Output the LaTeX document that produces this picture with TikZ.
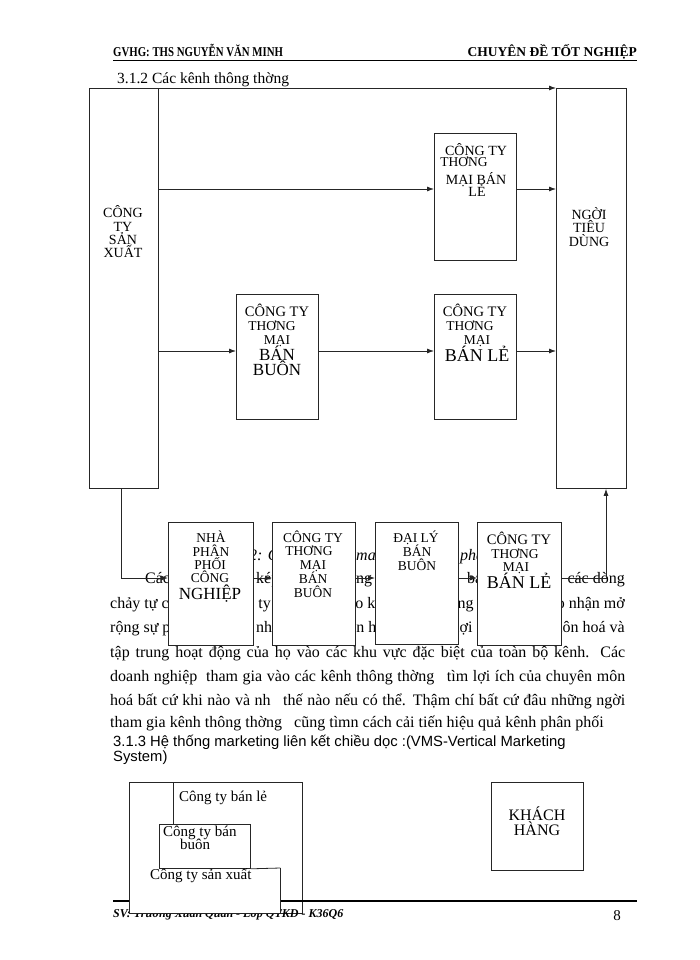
\documentclass[tikz,border=0pt]{standalone}
\usepackage{fontspec}
\usepackage{graphicx}
\setmainfont{Liberation Serif}
\newfontfamily\arialf{Liberation Sans}
\usetikzlibrary{arrows.meta}
\newcounter{tlc}
\newcommand\tx[4]{\stepcounter{tlc}\node[font=\fontsize{#3}{#3}\selectfont, anchor=base, inner sep=0pt] (tx\the\value{tlc}) at (#1,#2) {#4};}
\tikzset{
  box/.style={draw=black!85, line width=0.8pt, fill=white, inner sep=0pt, anchor=north west},
  conn/.style={draw=black!85, line width=0.8pt},
  arr/.style={conn, -{Latex[length=7pt,width=5pt]}},
  bodyw/.style={font=\fontsize{16}{18}\selectfont, inner sep=0pt, anchor=base west},
  bodye/.style={font=\fontsize{16}{18}\selectfont, inner sep=0pt, anchor=base east},
  capt/.style={font=\itshape\fontsize{16}{18}\selectfont, inner sep=0pt, anchor=base west},
  hdr/.style={font=\bfseries\fontsize{13.5}{15}\selectfont, inner sep=0pt},
  vms/.style={font=\fontsize{15}{17}\selectfont, inner sep=0pt, anchor=base west},
}
\begin{document}
\begin{tikzpicture}[x=1pt,y=-1pt]
\useasboundingbox (0,0) rectangle (700,960);
\fill[white] (0,0) rectangle (700,960);

% header
\node[hdr, anchor=base west] (hl) at (113,57) {\scalebox{0.8}[1]{GVHG: THS NGUYỄN VĂN MINH}};
\node[hdr, anchor=base east] (hr) at (637,57) {CHUYÊN ĐỀ TỐT NGHIỆP};
\draw[line width=1.3pt] (113,60.5) -- (637,60.5);
\node[font=\fontsize{15.5}{18}\selectfont, inner sep=0pt, anchor=base west] (title) at (117,84) {3.1.2 Các kênh thông thờng};

% paragraph behind the lower row
\node[capt] (c1) at (249,560) {2: Các};
\node[capt] (c2) at (356,560) {marketing};
\node[capt] (c3) at (460,560) {phân phối};

\node[bodyw] (p11) at (145,583) {Các kênh};
\node[bodyw] (p12) at (256,583) {kép};
\node[bodyw] (p13) at (356,583) {ng};
\node[bodyw] (p14) at (467,583) {ba};
\node[bodye] (p15) at (625,583) {các dòng};

\node[bodyw] (p21) at (110,608) {chảy tự các};
\node[bodye] (p22) at (271,608) {công ty};
\node[bodyw] (p23) at (340,608) {vào kênh};
\node[bodyw] (p24) at (437,608) {thông};
\node[bodye] (p25) at (625,608) {cho nhận mở};

\node[bodyw] (p31) at (110,632) {rộng sự phân};
\node[bodyw] (p32) at (256,632) {nhà};
\node[bodyw] (p33) at (318,632) {chuyên hoá};
\node[bodyw] (p34) at (455,632) {lợi};
\node[bodye] (p35) at (625,632) {chuyên môn hoá và};

\node[bodyw] (p4) at (110,657) {\makebox[515pt][s]{tập trung hoạt động của họ vào các khu vực đặc biệt của toàn bộ kênh. Các}};
\node[bodyw] (p5) at (110,681) {\makebox[515pt][s]{doanh nghiệp\hspace{4pt} tham gia vào các kênh thông thờng\hspace{8pt} tìm lợi ích của chuyên môn}};
\node[bodyw] (p6) at (110,705) {\makebox[515pt][s]{hoá bất cứ khi nào và nh\hspace{8pt} thế nào nếu có thể. Thậm chí bất cứ đâu những ngời}};
\node[bodyw] (p7) at (110,727) {tham gia kênh thông thờng\hspace{8pt} cũng tìmn cách cải tiến hiệu quả kênh phân phối};
\node[font=\arialf\fontsize{14.8}{16}\selectfont, inner sep=0pt, anchor=base west] (p8) at (113,746) {3.1.3 Hệ thống marketing liên kết chiều dọc :(VMS-Vertical Marketing};
\node[font=\arialf\fontsize{14.8}{16}\selectfont, inner sep=0pt, anchor=base west] (p9) at (113,761) {System)};

% main boxes
\node[box, minimum width=69pt, minimum height=400pt] (sx) at (89,88) {};
\node[box, minimum width=70pt, minimum height=400pt] (ntd) at (556,88) {};
\node[box, minimum width=82pt, minimum height=127pt] (tl) at (434,133) {};
\node[box, minimum width=82pt, minimum height=125pt] (mb1) at (236,294) {};
\node[box, minimum width=82pt, minimum height=125pt] (mb2) at (434,294) {};

% connectors
\draw[arr] (sx.north east) -- (ntd.north west);
\draw[arr] (sx.east |- 0,189) -- (tl.west |- 0,189);
\draw[arr] (tl.east |- 0,189) -- (ntd.west |- 0,189);
\draw[arr] (sx.east |- 0,351) -- (mb1.west |- 0,351);
\draw[arr] (mb1.east |- 0,351) -- (mb2.west |- 0,351);
\draw[arr] (mb2.east |- 0,351) -- (ntd.west |- 0,351);

\coordinate (cl) at (121,578);
\coordinate (cr) at (606,578);
\node[box, minimum width=85pt, minimum height=123pt] (npp) at (168,522) {};
\node[box, minimum width=83pt, minimum height=123pt] (bb) at (272,522) {};
\node[box, minimum width=83pt, minimum height=122pt] (dl) at (375,522) {};
\node[box, minimum width=84pt, minimum height=123pt] (bl) at (477,522) {};
\draw[arr] (cl |- sx.south) -- (cl) -- (npp.west |- cl);
\draw[arr] (npp.east |- cl) -- (bb.west |- cl);
\draw[arr] (bb.east |- cl) -- (dl.west |- cl);
\draw[arr] (dl.east |- cl) -- (bl.west |- cl);
\draw[arr] (bl.east |- cl) -- (cr) -- (cr |- ntd.south);

% box texts
\tx{123}{217.5}{14}{CÔNG}
\tx{123}{231.5}{14}{TY}
\tx{123}{244.5}{14}{SẢN}
\tx{123}{257.5}{14}{XUẤT}

\tx{589}{219.5}{14}{NGỜI}
\tx{589}{232}{14}{TIÊU}
\tx{589}{246.5}{14}{DÙNG}

\tx{476}{155.5}{14}{CÔNG TY}
\tx{464}{166.5}{13.5}{THƠNG}
\tx{476}{184}{14}{MẠI BÁN}
\tx{477}{196.5}{14}{LẺ}

\tx{277}{316.5}{14.5}{CÔNG TY}
\tx{272}{330.5}{13.5}{THƠNG}
\tx{277}{344.5}{13.5}{MẠI}
\tx{277}{360.5}{17}{BÁN}
\tx{277}{375}{17}{BUÔN}

\tx{475}{316.5}{14.5}{CÔNG TY}
\tx{470}{330.5}{13.5}{THƠNG}
\tx{477}{344.5}{13.5}{MẠI}
\tx{477}{361}{18}{BÁN LẺ}

\tx{211}{542.5}{13.5}{NHÀ}
\tx{211}{556.5}{13.5}{PHÂN}
\tx{210}{569.5}{13.5}{PHỐI}
\tx{210}{582.5}{13.5}{CÔNG}
\tx{210}{599}{17}{NGHIỆP}

\tx{313}{542.5}{13.5}{CÔNG TY}
\tx{309}{555.5}{13.5}{THƠNG}
\tx{313}{569.5}{13.5}{MẠI}
\tx{313}{583}{13.5}{BÁN}
\tx{313}{597}{13.5}{BUÔN}

\tx{416}{542.5}{13.5}{ĐẠI LÝ}
\tx{417}{556.5}{13.5}{BÁN}
\tx{417}{570}{13.5}{BUÔN}

\tx{519}{544.5}{14.5}{CÔNG TY}
\tx{515}{558}{13.5}{THƠNG}
\tx{516}{571.5}{13.5}{MẠI}
\tx{519}{588}{18}{BÁN LẺ}

% lower VMS diagram and footer
\node[box, minimum width=173pt, minimum height=131pt] (vbl) at (129,782) {};
\node[font=\bfseries\itshape\fontsize{12}{14}\selectfont, inner sep=0pt, anchor=base west] (ft) at (113,917.5) {SV: Trương Xuân Quân - Lớp QTKD - K36Q6};
\draw[line width=1.8pt] (113,901) -- (637,901);
\node[font=\fontsize{15}{17}\selectfont, inner sep=0pt, anchor=base] (pg) at (617,920) {8};
\node[fill=white, inner sep=0pt, anchor=north west, minimum width=151pt, minimum height=45pt] (vsx) at (129,868) {};
\draw[conn] (vsx.north east) -- (vsx.south east) -- (vsx.south west) -- (vsx.north west);
\node[box, minimum width=91pt, minimum height=44pt] (vbb) at (159,824) {};
\draw[conn] (vbb.south east) -- (vsx.north east);
\coordinate (vl) at (173,782);
\draw[conn] (vl) -- (vl |- vbb.north);
\node[box, minimum width=92pt, minimum height=88pt] (kh) at (491,782) {};

\node[vms] (v1) at (179,801) {Công ty bán lẻ};
\node[vms] (v2) at (163,836) {Công ty bán};
\node[vms] (v3) at (180,849) {buôn};
\node[vms] (v4) at (150,879) {Công ty sản xuất};
\tx{537}{820}{16}{KHÁCH}
\tx{537}{835}{16}{HÀNG}
\end{tikzpicture}
\end{document}
